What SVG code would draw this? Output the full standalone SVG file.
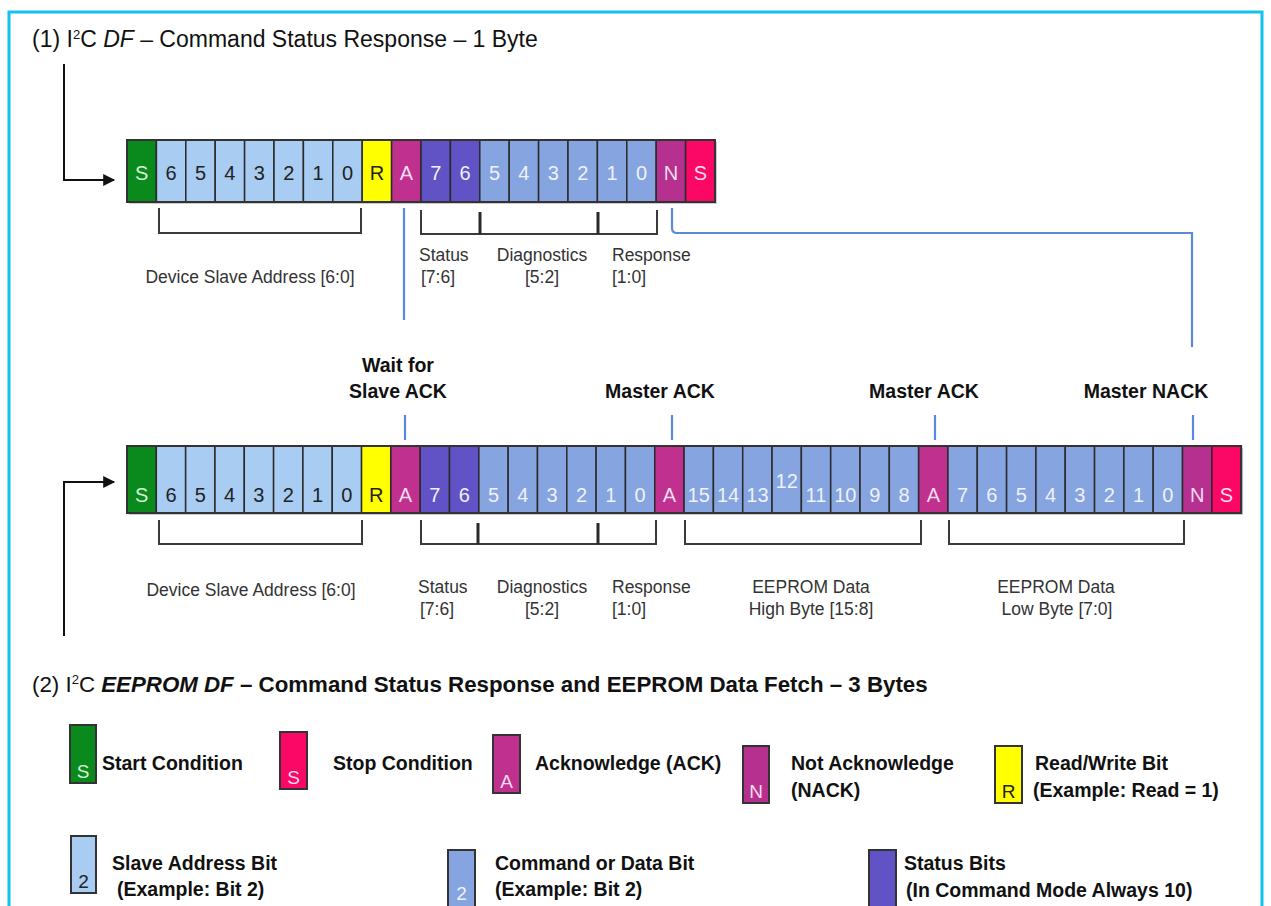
<svg xmlns="http://www.w3.org/2000/svg" width="1271" height="906" viewBox="0 0 1271 906">
<defs>
<style>
.c{stroke:#2a2a2a;stroke-width:1.5}
.g{fill:#0a8a1c}.a{fill:#a8ccf2}.y{fill:#ffff00}.k{fill:#c0308f}.p{fill:#6152c6}.b{fill:#85a4e0}.n{fill:#b6318f}.r{fill:#fb0766}
.t{font-family:"Liberation Sans",Arial,sans-serif;font-size:20px;text-anchor:middle}
.d{fill:#222}.w{fill:#eef2fa}.ws{fill:#d6f0d6}.wk{fill:#f6dcec}
.lb{font-family:"Liberation Sans",Arial,sans-serif;font-size:17.5px;fill:#333}
.bl{font-family:"Liberation Sans",Arial,sans-serif;font-size:19.5px;font-weight:bold;fill:#111}
.hd{font-family:"Liberation Sans",Arial,sans-serif;fill:#111}
.br{fill:none;stroke:#3a3a3a;stroke-width:2}
.bj{fill:none;stroke:#2a2a2a;stroke-width:3}
.bu{fill:none;stroke:#5a88dd;stroke-width:2.2}
.ar{fill:none;stroke:#111;stroke-width:2}
.lg{stroke:#333;stroke-width:2}
.lt{font-family:"Liberation Sans",Arial,sans-serif;font-size:19px;text-anchor:middle}
</style>
<marker id="ah" viewBox="0 0 10 10" refX="9" refY="5" markerWidth="14" markerHeight="12" markerUnits="userSpaceOnUse" orient="auto"><path d="M0,0 L10,5 L0,10 z" fill="#111"/></marker>
</defs>
<rect x="0" y="0" width="1271" height="906" fill="#ffffff"/>
<rect x="9" y="12" width="1253" height="910" fill="none" stroke="#12c2f2" stroke-width="3"/>

<text class="hd" x="32" y="47" font-size="23">(1) I<tspan dy="-8" font-size="13">2</tspan><tspan dy="8">C </tspan><tspan font-style="italic">DF</tspan> – Command Status Response – 1 Byte</text>

<g id="row1">
<rect x="129" y="142" width="588" height="62" fill="#999" opacity="0.5"/>
<rect class="c g" x="127" y="140" width="29.4" height="62"/>
<rect class="c a" x="156.4" y="140" width="29.4" height="62"/>
<rect class="c a" x="185.8" y="140" width="29.4" height="62"/>
<rect class="c a" x="215.2" y="140" width="29.4" height="62"/>
<rect class="c a" x="244.6" y="140" width="29.4" height="62"/>
<rect class="c a" x="274" y="140" width="29.4" height="62"/>
<rect class="c a" x="303.4" y="140" width="29.4" height="62"/>
<rect class="c a" x="332.8" y="140" width="29.4" height="62"/>
<rect class="c y" x="362.2" y="140" width="29.4" height="62"/>
<rect class="c k" x="391.6" y="140" width="29.4" height="62"/>
<rect class="c p" x="421" y="140" width="29.4" height="62"/>
<rect class="c p" x="450.4" y="140" width="29.4" height="62"/>
<rect class="c b" x="479.8" y="140" width="29.4" height="62"/>
<rect class="c b" x="509.2" y="140" width="29.4" height="62"/>
<rect class="c b" x="538.6" y="140" width="29.4" height="62"/>
<rect class="c b" x="568" y="140" width="29.4" height="62"/>
<rect class="c b" x="597.4" y="140" width="29.4" height="62"/>
<rect class="c b" x="626.8" y="140" width="29.4" height="62"/>
<rect class="c n" x="656.2" y="140" width="29.4" height="62"/>
<rect class="c r" x="685.6" y="140" width="29.4" height="62"/>
<rect x="127" y="140" width="588" height="62" fill="none" stroke="#333" stroke-width="2"/>
<text class="t ws" x="141.7" y="180">S</text>
<text class="t d" x="171.1" y="180">6</text>
<text class="t d" x="200.5" y="180">5</text>
<text class="t d" x="229.9" y="180">4</text>
<text class="t d" x="259.3" y="180">3</text>
<text class="t d" x="288.7" y="180">2</text>
<text class="t d" x="318.1" y="180">1</text>
<text class="t d" x="347.5" y="180">0</text>
<text class="t d" x="376.9" y="180">R</text>
<text class="t wk" x="406.3" y="180">A</text>
<text class="t w" x="435.7" y="180">7</text>
<text class="t w" x="465.1" y="180">6</text>
<text class="t w" x="494.5" y="180">5</text>
<text class="t w" x="523.9" y="180">4</text>
<text class="t w" x="553.3" y="180">3</text>
<text class="t w" x="582.7" y="180">2</text>
<text class="t w" x="612.1" y="180">1</text>
<text class="t w" x="641.5" y="180">0</text>
<text class="t wk" x="670.9" y="180">N</text>
<text class="t wk" x="700.3" y="180">S</text>
</g>

<g id="row1-labels">
<path class="br" d="M159,208 V233 H361 V208"/>
<path class="br" d="M421,210 V234 H657 V210"/>
<path class="bj" d="M480,212 V234 M598,212 V234"/>
<text class="lb" x="250" y="283" text-anchor="middle">Device Slave Address [6:0]</text>
<text class="lb" x="419" y="261">Status</text>
<text class="lb" x="421" y="283">[7:6]</text>
<text class="lb" x="542" y="261" text-anchor="middle">Diagnostics</text>
<text class="lb" x="542" y="283" text-anchor="middle">[5:2]</text>
<text class="lb" x="612" y="261">Response</text>
<text class="lb" x="612" y="283">[1:0]</text>
</g>

<g id="ack-labels">
<text class="bl" x="398" y="372" text-anchor="middle">Wait for</text>
<text class="bl" x="398" y="398" text-anchor="middle">Slave ACK</text>
<text class="bl" x="660" y="398" text-anchor="middle">Master ACK</text>
<text class="bl" x="924" y="398" text-anchor="middle">Master ACK</text>
<text class="bl" x="1146" y="398" text-anchor="middle">Master NACK</text>
</g>

<g id="connectors">
<path class="bu" d="M404,208 V320"/>
<path class="bu" d="M672,208 V228 Q672,233 677,233 H1192 V347"/>
<path class="bu" d="M405,415 V440 M672,415 V440 M935,415 V440 M1193,415 V440"/>
<path class="ar" d="M64,64 V180 H114" marker-end="url(#ah)"/>
<path class="ar" d="M64,636 V482 H114" marker-end="url(#ah)"/>
</g>

<g id="row2">
<rect x="129" y="448" width="1114" height="67" fill="#999" opacity="0.5"/>
<rect class="c g" x="127" y="446" width="29.32" height="67"/>
<rect class="c a" x="156.32" y="446" width="29.32" height="67"/>
<rect class="c a" x="185.64" y="446" width="29.32" height="67"/>
<rect class="c a" x="214.96" y="446" width="29.32" height="67"/>
<rect class="c a" x="244.28" y="446" width="29.32" height="67"/>
<rect class="c a" x="273.6" y="446" width="29.32" height="67"/>
<rect class="c a" x="302.92" y="446" width="29.32" height="67"/>
<rect class="c a" x="332.24" y="446" width="29.32" height="67"/>
<rect class="c y" x="361.56" y="446" width="29.32" height="67"/>
<rect class="c k" x="390.88" y="446" width="29.32" height="67"/>
<rect class="c p" x="420.2" y="446" width="29.32" height="67"/>
<rect class="c p" x="449.52" y="446" width="29.32" height="67"/>
<rect class="c b" x="478.84" y="446" width="29.32" height="67"/>
<rect class="c b" x="508.16" y="446" width="29.32" height="67"/>
<rect class="c b" x="537.48" y="446" width="29.32" height="67"/>
<rect class="c b" x="566.8" y="446" width="29.32" height="67"/>
<rect class="c b" x="596.12" y="446" width="29.32" height="67"/>
<rect class="c b" x="625.44" y="446" width="29.32" height="67"/>
<rect class="c k" x="654.76" y="446" width="29.32" height="67"/>
<rect class="c b" x="684.08" y="446" width="29.32" height="67"/>
<rect class="c b" x="713.4" y="446" width="29.32" height="67"/>
<rect class="c b" x="742.72" y="446" width="29.32" height="67"/>
<rect class="c b" x="772.04" y="446" width="29.32" height="67"/>
<rect class="c b" x="801.36" y="446" width="29.32" height="67"/>
<rect class="c b" x="830.68" y="446" width="29.32" height="67"/>
<rect class="c b" x="860" y="446" width="29.32" height="67"/>
<rect class="c b" x="889.32" y="446" width="29.32" height="67"/>
<rect class="c k" x="918.64" y="446" width="29.32" height="67"/>
<rect class="c b" x="947.96" y="446" width="29.32" height="67"/>
<rect class="c b" x="977.28" y="446" width="29.32" height="67"/>
<rect class="c b" x="1006.6" y="446" width="29.32" height="67"/>
<rect class="c b" x="1035.92" y="446" width="29.32" height="67"/>
<rect class="c b" x="1065.24" y="446" width="29.32" height="67"/>
<rect class="c b" x="1094.56" y="446" width="29.32" height="67"/>
<rect class="c b" x="1123.88" y="446" width="29.32" height="67"/>
<rect class="c b" x="1153.2" y="446" width="29.32" height="67"/>
<rect class="c n" x="1182.52" y="446" width="29.32" height="67"/>
<rect class="c r" x="1211.84" y="446" width="29.32" height="67"/>
<rect x="127" y="446" width="1114.16" height="67" fill="none" stroke="#333" stroke-width="2"/>
<text class="t ws" x="141.7" y="502">S</text>
<text class="t d" x="171" y="502">6</text>
<text class="t d" x="200.3" y="502">5</text>
<text class="t d" x="229.6" y="502">4</text>
<text class="t d" x="258.9" y="502">3</text>
<text class="t d" x="288.3" y="502">2</text>
<text class="t d" x="317.6" y="502">1</text>
<text class="t d" x="346.9" y="502">0</text>
<text class="t d" x="376.2" y="502">R</text>
<text class="t wk" x="405.5" y="502">A</text>
<text class="t w" x="434.9" y="502">7</text>
<text class="t w" x="464.2" y="502">6</text>
<text class="t w" x="493.5" y="502">5</text>
<text class="t w" x="522.8" y="502">4</text>
<text class="t w" x="552.1" y="502">3</text>
<text class="t w" x="581.5" y="502">2</text>
<text class="t w" x="610.8" y="502">1</text>
<text class="t w" x="640.1" y="502">0</text>
<text class="t wk" x="669.4" y="502">A</text>
<text class="t w" x="698.7" y="502">15</text>
<text class="t w" x="728.1" y="502">14</text>
<text class="t w" x="757.4" y="502">13</text>
<text class="t w" x="786.7" y="488">12</text>
<text class="t w" x="816" y="502">11</text>
<text class="t w" x="845.3" y="502">10</text>
<text class="t w" x="874.7" y="502">9</text>
<text class="t w" x="904" y="502">8</text>
<text class="t wk" x="933.3" y="502">A</text>
<text class="t w" x="962.6" y="502">7</text>
<text class="t w" x="991.9" y="502">6</text>
<text class="t w" x="1021.3" y="502">5</text>
<text class="t w" x="1050.6" y="502">4</text>
<text class="t w" x="1079.9" y="502">3</text>
<text class="t w" x="1109.2" y="502">2</text>
<text class="t w" x="1138.5" y="502">1</text>
<text class="t w" x="1167.9" y="502">0</text>
<text class="t wk" x="1197.2" y="502">N</text>
<text class="t wk" x="1226.5" y="502">S</text>
</g>

<g id="row2-labels">
<path class="br" d="M159,520 V544 H362 V520"/>
<path class="br" d="M421,520 V544 H656 V520"/>
<path class="bj" d="M478,523 V544 M598,523 V544"/>
<path class="br" d="M685,520 V544 H921 V520"/>
<path class="br" d="M949,520 V544 H1184 V520"/>
<text class="lb" x="251" y="596" text-anchor="middle">Device Slave Address [6:0]</text>
<text class="lb" x="418" y="593">Status</text>
<text class="lb" x="420" y="615">[7:6]</text>
<text class="lb" x="542" y="593" text-anchor="middle">Diagnostics</text>
<text class="lb" x="542" y="615" text-anchor="middle">[5:2]</text>
<text class="lb" x="612" y="593">Response</text>
<text class="lb" x="612" y="615">[1:0]</text>
<text class="lb" x="811" y="593" text-anchor="middle">EEPROM Data</text>
<text class="lb" x="811" y="615" text-anchor="middle">High Byte [15:8]</text>
<text class="lb" x="1056" y="593" text-anchor="middle">EEPROM Data</text>
<text class="lb" x="1057" y="615" text-anchor="middle">Low Byte [7:0]</text>
</g>

<text class="hd" x="32" y="692" font-size="22.3">(2) I<tspan dy="-8" font-size="13">2</tspan><tspan dy="8">C </tspan><tspan font-weight="bold" font-style="italic">EEPROM DF</tspan><tspan font-weight="bold"> – Command Status Response and EEPROM Data Fetch – 3 Bytes</tspan></text>

<g id="legend-start">
<rect class="lg g" x="70" y="725" width="26" height="58"/>
<text class="lt ws" x="83" y="778">S</text>
<text class="bl" x="102" y="770">Start Condition</text>
</g>
<g id="legend-stop">
<rect class="lg r" x="280" y="732" width="27" height="57"/>
<text class="lt wk" x="293.5" y="784">S</text>
<text class="bl" x="333" y="770">Stop Condition</text>
</g>
<g id="legend-ack">
<rect class="lg k" x="493" y="735" width="27" height="58"/>
<text class="lt wk" x="506.5" y="788">A</text>
<text class="bl" x="535" y="770">Acknowledge (ACK)</text>
</g>
<g id="legend-nack">
<rect class="lg n" x="743" y="746" width="26" height="57"/>
<text class="lt wk" x="756" y="798">N</text>
<text class="bl" x="791" y="770">Not Acknowledge</text>
<text class="bl" x="791" y="797">(NACK)</text>
</g>
<g id="legend-rw">
<rect class="lg y" x="995" y="746" width="27" height="57"/>
<text class="lt d" x="1008.5" y="798">R</text>
<text class="bl" x="1035" y="770">Read/Write Bit</text>
<text class="bl" x="1033" y="797">(Example: Read = 1)</text>
</g>
<g id="legend-slave">
<rect class="lg a" x="71" y="836" width="25" height="57"/>
<text class="lt d" x="83.5" y="888">2</text>
<text class="bl" x="112" y="870">Slave Address Bit</text>
<text class="bl" x="117" y="896">(Example: Bit 2)</text>
</g>
<g id="legend-cmd">
<rect class="lg b" x="448" y="850" width="27" height="62"/>
<text class="lt w" x="461.5" y="900" font-size="18">2</text>
<text class="bl" x="495" y="870">Command or Data Bit</text>
<text class="bl" x="495" y="896">(Example: Bit 2)</text>
</g>
<g id="legend-status">
<rect class="lg p" x="869" y="850" width="27" height="62"/>
<text class="bl" x="904" y="870">Status Bits</text>
<text class="bl" x="906" y="897">(In Command Mode Always 10)</text>
</g>
</svg>
